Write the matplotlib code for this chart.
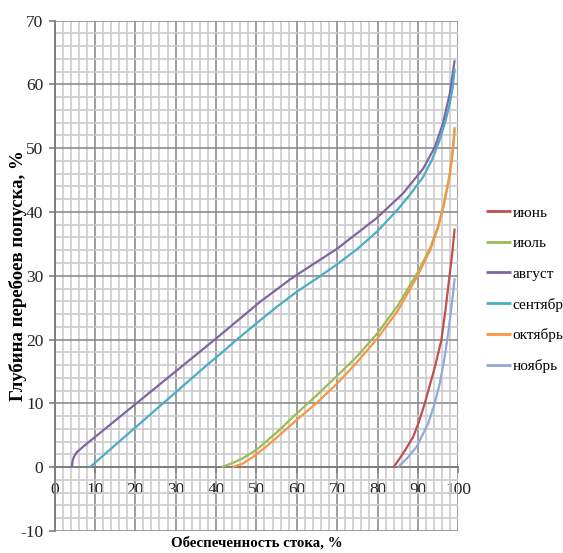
import matplotlib
matplotlib.use("Agg")
import matplotlib.pyplot as plt
from matplotlib.ticker import MultipleLocator

plt.rcParams['font.family'] = ['Liberation Serif', 'DejaVu Serif']
plt.rcParams['axes.unicode_minus'] = False

# Data
jun_x = [84.0, 86.5, 88.8, 90.2, 91.7, 94.2, 95.8, 96.8, 97.6, 98.5, 99.1]
jun_y = [0.0, 2.3, 4.7, 7.0, 10.0, 15.7, 19.9, 24.5, 28.8, 33.5, 37.4]

jul_x = [41.4, 44.0, 46.7, 50.0, 55.0, 60.0, 65.0, 70.0, 75.0, 80.0, 85.0, 90.0, 93.0, 95.0, 96.5, 97.9, 98.6, 99.1]
jul_y = [0.0, 0.6, 1.4, 2.7, 5.4, 8.4, 11.3, 14.3, 17.4, 21.0, 25.3, 30.6, 34.3, 37.8, 41.5, 46.0, 49.5, 53.3]

aug_x = [4.3, 4.5, 4.8, 5.5, 7.1, 20.3, 40.1, 50.9, 58.3, 59.9, 69.9, 79.7, 86.3, 91.3, 94.2, 96.2, 97.9, 99.1]
aug_y = [0.0, 1.0, 1.6, 2.3, 3.2, 10.0, 20.2, 25.9, 29.4, 30.1, 34.2, 39.0, 42.9, 46.8, 50.2, 53.9, 58.6, 63.8]

sep_x = [8.8, 26.9, 38.5, 41.0, 45.0, 50.9, 55.0, 60.0, 65.0, 70.0, 75.0, 80.0, 85.0, 88.0, 91.3, 93.5, 95.4, 96.8, 97.9, 98.6, 99.1]
sep_y = [0.0, 10.0, 16.4, 17.7, 19.9, 23.0, 25.1, 27.5, 29.6, 31.8, 34.2, 37.0, 40.4, 42.7, 45.5, 48.2, 51.3, 54.2, 57.0, 59.5, 62.5]

oct_x = [44.1, 46.5, 49.2, 52.0, 55.0, 60.0, 65.0, 70.0, 75.0, 80.0, 85.0, 90.0, 93.0, 95.0, 96.5, 97.9, 98.6, 99.1]
oct_y = [0.0, 0.5, 1.6, 3.0, 4.6, 7.4, 10.1, 13.1, 16.5, 20.2, 24.5, 30.1, 34.0, 37.5, 41.3, 45.8, 49.3, 53.0]

nov_x = [85.1, 87.5, 89.7, 92.5, 94.0, 95.4, 96.5, 97.5, 98.7, 99.1]
nov_y = [0.0, 1.5, 3.2, 6.8, 9.6, 13.1, 16.8, 21.0, 27.2, 29.6]

series_names = ["июнь", "июль", "август", "сентябрь", "октябрь", "ноябрь"]
series_colors = ["#C0504D", "#9BBB59", "#8064A2", "#4BACC6", "#F79646", "#8EA9DB"]
series_data = [(jun_x, jun_y), (jul_x, jul_y), (aug_x, aug_y),
               (sep_x, sep_y), (oct_x, oct_y), (nov_x, nov_y)]

x_label = "Обеспеченность стока, %"
y_label = "Глубина перебоев попуска, %"

W, H = 563, 553
fig = plt.figure(figsize=(W / 100, H / 100), dpi=100)
ax = fig.add_axes([54.5 / W, 1 - 530.8 / H, (458.3 - 54.5) / W, (530.8 - 20.7) / H])

for (xs, ys), name, col in zip(series_data, series_names, series_colors):
    ax.plot(xs, ys, color=col, lw=1.6, label=name, solid_capstyle='butt',
            solid_joinstyle='round', zorder=3)

ax.set_xlim(0, 100)
ax.set_ylim(-10, 70)
ax.xaxis.set_major_locator(MultipleLocator(10))
ax.xaxis.set_minor_locator(MultipleLocator(2))
ax.yaxis.set_major_locator(MultipleLocator(10))
ax.yaxis.set_minor_locator(MultipleLocator(2))

ax.grid(which='major', color='#8c8c8c', lw=1.2, zorder=1)
ax.grid(which='minor', color='#cccccc', lw=1.2, zorder=0)
ax.set_axisbelow(True)

for s in ['top', 'right']:
    ax.spines[s].set_visible(False)
ax.spines['bottom'].set_position(('data', 0))
for s in ['bottom', 'left']:
    ax.spines[s].set_color('#7f7f7f')
    ax.spines[s].set_linewidth(1.4)
    ax.spines[s].set_zorder(2)

ax.tick_params(which='major', length=4, width=1.2, color='#7f7f7f', labelsize=12.5, labelcolor='#222222')
ax.tick_params(which='minor', length=0)
ax.tick_params(axis='x', pad=7)
ax.tick_params(axis='y', pad=4)

ax.set_xlabel(x_label, fontsize=10.7, fontweight='bold', va='center')
ax.set_ylabel(y_label, fontsize=13.5, fontweight='bold', va='center')
ax.xaxis.set_label_coords(0.5, (530.8 - 543) / 510.1)
ax.yaxis.set_label_coords((18.5 - 54.5) / 403.8, 0.5)

leg = ax.legend(loc='upper left', bbox_to_anchor=(486 / W, 1 - 206 / H),
                bbox_transform=fig.transFigure, frameon=False, fontsize=11,
                handlelength=1.63, handletextpad=0.1, labelspacing=1.1,
                borderpad=0, borderaxespad=0)
for line in leg.get_lines():
    line.set_linewidth(2.0)

fig.savefig("out.png", dpi=100)
